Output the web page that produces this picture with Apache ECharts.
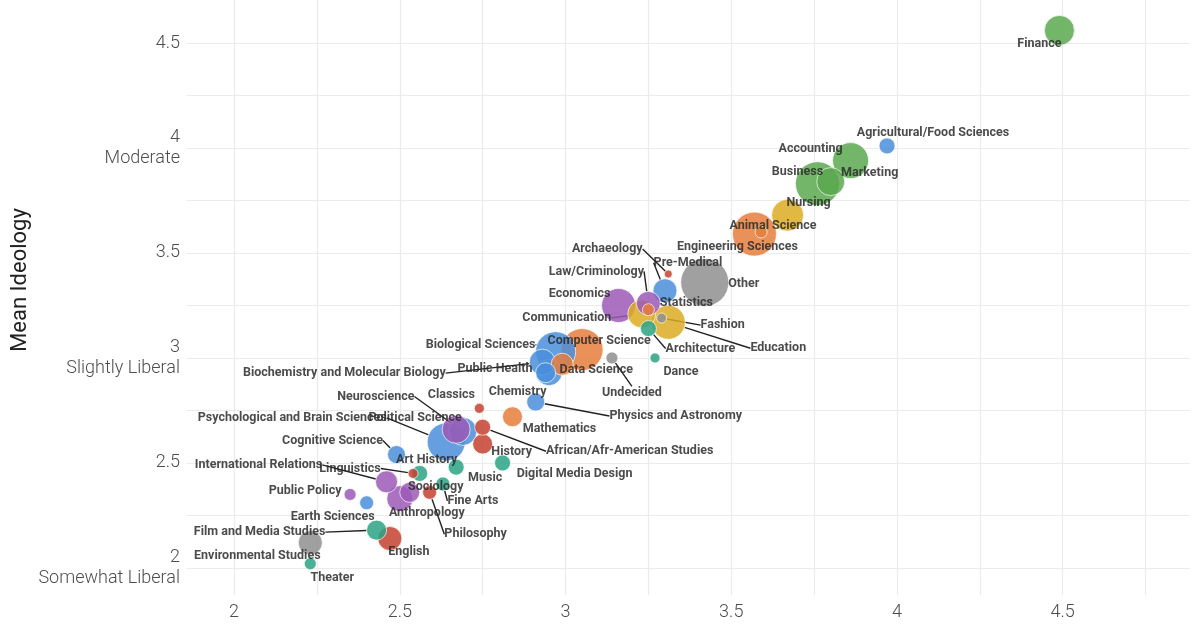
<!doctype html>
<html>
<head>
<meta charset="UTF-8">
<title>Mean Ideology by Major</title>
<script src="https://cdn.jsdelivr.net/npm/echarts@6/dist/echarts.min.js"></script>
<style>
  html, body { margin: 0; padding: 0; background: #fff; }
  #chart { width: 1200px; height: 628px; }
</style>
</head>
<body>
<div id="chart"></div>
<script>
// majors, in reading order
var majors = ['Finance', 'Agricultural/Food Sciences', 'Accounting', 'Marketing', 'Business',
  'Nursing', 'Animal Science', 'Engineering Sciences', 'Other', 'Pre-Medical',
  'Archaeology', 'Law/Criminology', 'Economics', 'Communication', 'Statistics',
  'Fashion', 'Education', 'Architecture', 'Dance', 'Undecided',
  'Computer Science', 'Data Science', 'Biological Sciences', 'Public Health', 'Biochemistry and Molecular Biology',
  'Chemistry', 'Physics and Astronomy', 'Mathematics', 'Classics', 'African/Afr-American Studies',
  'History', 'Neuroscience', 'Political Science', 'Psychological and Brain Sciences', 'Cognitive Science',
  'Art History', 'Linguistics', 'International Relations', 'Music', 'Digital Media Design',
  'Sociology', 'Fine Arts', 'Anthropology', 'Philosophy', 'Public Policy',
  'Earth Sciences', 'Film and Media Studies', 'English', 'Environmental Studies', 'Theater'];

var fields = ['business', 'science', 'business', 'business', 'business',
  'professional', 'quant', 'quant', 'other', 'science',
  'humanities', 'social', 'social', 'professional', 'quant',
  'other', 'professional', 'arts', 'arts', 'other',
  'quant', 'quant', 'science', 'science', 'science',
  'science', 'science', 'quant', 'humanities', 'humanities',
  'humanities', 'science', 'social', 'science', 'science',
  'arts', 'humanities', 'social', 'arts', 'arts',
  'social', 'arts', 'social', 'humanities', 'social',
  'science', 'arts', 'humanities', 'other', 'arts'];

var xScore = [4.49, 3.97, 3.86, 3.80, 3.76,
  3.67, 3.59, 3.57, 3.42, 3.30,
  3.31, 3.25, 3.16, 3.23, 3.25,
  3.29, 3.31, 3.25, 3.27, 3.14,
  3.05, 2.99, 2.97, 2.95, 2.93,
  2.94, 2.91, 2.84, 2.74, 2.75,
  2.75, 2.69, 2.67, 2.64, 2.49,
  2.56, 2.54, 2.46, 2.67, 2.81,
  2.53, 2.63, 2.50, 2.59, 2.35,
  2.40, 2.43, 2.47, 2.23, 2.23];

var meanIdeology = [4.56, 4.01, 3.94, 3.84, 3.83,
  3.68, 3.60, 3.59, 3.36, 3.32,
  3.40, 3.26, 3.25, 3.21, 3.23,
  3.19, 3.17, 3.14, 3.00, 3.00,
  3.04, 2.97, 3.03, 2.93, 2.98,
  2.93, 2.79, 2.72, 2.76, 2.67,
  2.59, 2.65, 2.66, 2.60, 2.54,
  2.45, 2.45, 2.41, 2.48, 2.50,
  2.36, 2.40, 2.33, 2.36, 2.35,
  2.31, 2.18, 2.14, 2.12, 2.02];

// bubble size (respondents)
var respondents = [225, 64, 324, 196, 484,
  256, 36, 484, 576, 144,
  16, 144, 289, 196, 36,
  25, 289, 64, 25, 36,
  441, 121, 400, 169, 169,
  100, 81, 100, 25, 64,
  100, 196, 196, 361, 81,
  64, 25, 121, 64, 64,
  100, 49, 169, 49, 36,
  49, 100, 144, 144, 36];

var yTickValues = [2, 2.5, 3, 3.5, 4, 4.5];
var yTickLabels = ['2\nSomewhat Liberal', '2.5', '3\nSlightly Liberal', '3.5', '4\nModerate', '4.5'];

// label placement (pixel offset from the bubble centre) and leader lines
var labelOffsets = [[-20, 13], [46, -13], [-40, -12], [39, -9], [-20, -12],
  [21, -12], [12, -6], [-17, 13], [39, 1], [23, -28],
  [-61, -25], [-52, -32], [-39, -12], [-75, 4], [38, -7],
  [61, 7], [110, 26], [52, 20], [26, 14], [20, 35],
  [17, -9], [34, 6], [-75, -7], [-54, -4], [-198, 11],
  [-28, 19], [140, 14], [47, 12], [-28, -13], [147, 24],
  [29, 8], [-87, -35], [-41, -11], [-154, -24], [-64, -14],
  [7, -14], [-63, -5], [-128, -17], [29, 11], [72, 11],
  [26, -5], [30, 17], [27, 14], [46, 42], [-45, -4],
  [-34, 14], [-117, 2], [19, 13], [-53, 13], [22, 14]];
var leaderLine = [0, 0, 0, 0, 0, 0, 0, 0, 1, 1,
  1, 1, 0, 1, 0, 1, 1, 1, 0, 1,
  0, 0, 1, 0, 1, 0, 1, 0, 0, 1,
  0, 1, 0, 1, 1, 0, 1, 1, 0, 0,
  0, 1, 0, 1, 0, 0, 1, 0, 0, 0];

var fieldColors = {
  business: '#5ba84f',
  science: '#4a8edb',
  quant: '#e67e3c',
  professional: '#dcab22',
  social: '#9b59b6',
  humanities: '#c4412f',
  arts: '#2ba384',
  other: '#8f8f8f'
};

// draw the big bubbles first so the small ones stay visible
var order = majors.map(function(m, i) { return i; });
order.sort(function(a, b) { return respondents[b] - respondents[a]; });

var seriesData = order.map(function(i) {
  return {
    name: majors[i],
    value: [xScore[i], meanIdeology[i], respondents[i]],
    itemStyle: { color: fieldColors[fields[i]] },
    labelLine: { show: leaderLine[i] === 1 }
  };
});

function isHalf(v) {
  return Math.abs(v * 2 - Math.round(v * 2)) < 1e-6;
}

var chart = echarts.init(document.getElementById('chart'));
var option = {
  backgroundColor: '#fff',
  animation: false,
  grid: { left: 187, right: 10, top: 0, bottom: 33 },
  xAxis: {
    type: 'value',
    min: 1.858,
    max: 4.884,
    minInterval: 0.25,
    maxInterval: 0.25,
    axisLine: { show: false },
    axisTick: { show: false },
    axisLabel: {
      margin: 8,
      color: '#4d4d4d',
      fontFamily: 'Roboto',
      fontWeight: 300,
      fontSize: 18,
      showMinLabel: false,
      showMaxLabel: false,
      formatter: function(v) { return isHalf(v) ? String(v) : ''; }
    },
    splitLine: { show: true, showMinLine: false, showMaxLine: false, lineStyle: { color: '#ebebeb', width: 1.2 } }
  },
  yAxis: {
    type: 'value',
    min: 1.871,
    max: 4.705,
    minInterval: 0.25,
    maxInterval: 0.25,
    axisLine: { show: false },
    axisTick: { show: false },
    axisLabel: {
      margin: 7,
      color: '#4d4d4d',
      fontFamily: 'Roboto',
      fontWeight: 300,
      fontSize: 18,
      lineHeight: 21,
      align: 'right',
      showMinLabel: false,
      showMaxLabel: false,
      formatter: function(v) {
        for (var k = 0; k < yTickValues.length; k++) {
          if (Math.abs(yTickValues[k] - v) < 1e-6) return yTickLabels[k];
        }
        return '';
      }
    },
    splitLine: { show: true, showMinLine: false, showMaxLine: false, lineStyle: { color: '#ebebeb', width: 1.2 } }
  },
  graphic: [{
    type: 'text',
    x: 20,
    y: 280,
    rotation: Math.PI / 2,
    style: {
      text: 'Mean Ideology',
      fontFamily: 'Roboto',
      fontSize: 22,
      fill: '#222',
      align: 'center',
      verticalAlign: 'middle'
    }
  }],
  series: [{
    type: 'scatter',
    data: seriesData,
    symbolSize: function(val) { return 2 * Math.sqrt(val[2]); },
    itemStyle: { opacity: 0.85, borderColor: '#fff', borderWidth: 0.8 },
    label: {
      show: true,
      formatter: '{b}',
      fontFamily: 'Roboto',
      fontWeight: 'bold',
      fontSize: 12.5,
      color: '#2b2b2b'
    },
    labelLine: {
      show: true,
      lineStyle: { color: '#222', width: 1.4 }
    },
    labelLayout: function(params) {
      var i = order[params.dataIndex];
      var off = labelOffsets[i];
      var cx = params.rect.x + params.rect.width / 2;
      var cy = params.rect.y + params.rect.height / 2;
      return {
        x: cx + off[0],
        y: cy + off[1],
        align: 'center',
        verticalAlign: 'middle'
      };
    },
    emphasis: { disabled: true }
  }]
};
chart.setOption(option);
</script>
</body>
</html>
